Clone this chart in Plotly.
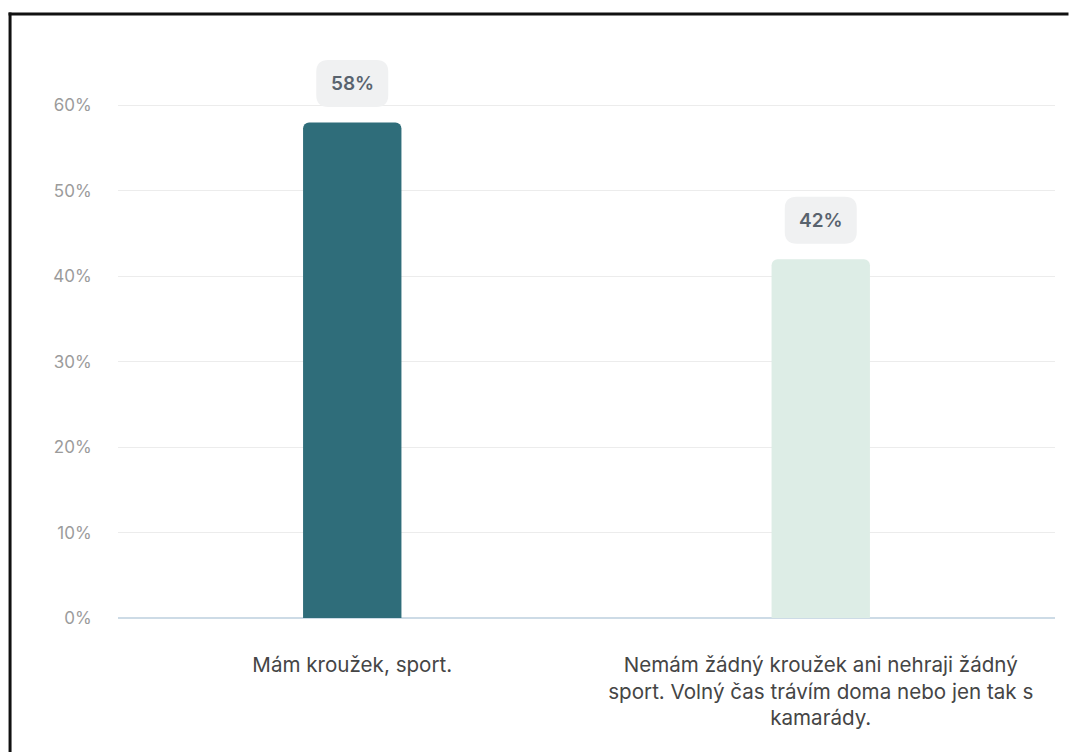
import plotly.graph_objects as go

categories = ["Mám kroužek, sport.",
              "Nemám žádný kroužek ani nehraji žádný<br>sport. Volný čas trávím doma nebo jen tak s<br>kamarády."]
values = [58, 42]
labels = ["58%", "42%"]
colors = ["#2f6d7a", "#ddede6"]
y_ticks = [0, 10, 20, 30, 40, 50, 60]

W, H = 1073, 756
ymax = 70
ml, mr, mb = 118, 17.5, 138
mt = (H - mb) - (H - mb - 105) * ymax / 60  # keep 60% gridline at same place

fig = go.Figure()
fig.add_trace(go.Bar(
    x=categories, y=values, width=0.21,
    marker=dict(color=colors, line=dict(width=0), cornerradius=6),
    hoverinfo="skip",
))

def rounded_rect(w, h, r, cy):
    x0, x1 = -w / 2, w / 2
    y0, y1 = cy - h / 2, cy + h / 2
    return (f"M{x0+r},{y0} L{x1-r},{y0} Q{x1},{y0} {x1},{y0+r} "
            f"L{x1},{y1-r} Q{x1},{y1} {x1-r},{y1} L{x0+r},{y1} "
            f"Q{x0},{y1} {x0},{y1-r} L{x0},{y0+r} Q{x0},{y0} {x0+r},{y0} Z")

shapes = []
annotations = []
for c, v, t in zip(categories, values, labels):
    shapes.append(dict(
        type="path", xref="x", yref="y", xsizemode="pixel", ysizemode="pixel",
        xanchor=c, yanchor=v, path=rounded_rect(72, 47, 12, 39),
        fillcolor="#f0f1f2", line=dict(width=0), layer="above",
    ))
    annotations.append(dict(
        x=c, y=v, xref="x", yref="y", text=t, showarrow=False, yshift=39,
        font=dict(family="Inter", size=19, color="#59636e", weight=600),
    ))

# frame lines (top and left edge of the screenshot), kept inside the page
pw, ph = W - ml - mr, H - mt - mb
def px(xp):
    return (xp - ml) / pw
def py(yp):
    return (H - mb - yp) / ph
frame = dict(color="#111111", width=3)
shapes.append(dict(type="line", xref="paper", yref="paper",
                   x0=px(10), x1=px(10), y0=py(H - 4), y1=py(12), line=frame))
shapes.append(dict(type="line", xref="paper", yref="paper",
                   x0=px(8.5), x1=px(W - 4), y0=py(13.5), y1=py(13.5), line=frame))

fig.update_layout(
    width=W, height=H,
    margin=dict(l=ml, r=mr, t=mt, b=mb),
    paper_bgcolor="white", plot_bgcolor="white",
    showlegend=False,
    shapes=shapes, annotations=annotations,
    font=dict(family="Inter"),
)
fig.update_xaxes(
    showgrid=False, showline=False, zeroline=False,
    ticks="outside", ticklen=28, tickcolor="rgba(0,0,0,0)",
    tickfont=dict(family="Inter", size=20.6, color="#454545"),
)
fig.update_yaxes(
    range=[0, ymax], tickvals=y_ticks, ticktext=[f"{v}%" for v in y_ticks],
    showgrid=True, gridcolor="#ececec", gridwidth=1,
    zeroline=True, zerolinecolor="#cddbe6", zerolinewidth=2,
    showline=False, ticks="outside", ticklen=22, tickcolor="rgba(0,0,0,0)",
    tickfont=dict(family="Inter", size=17, color="#9b9b9b"),
)

post = (
    "document.documentElement.style.overflow='hidden';"
    "document.body.style.margin='0';document.body.style.overflow='hidden';"
    "document.querySelectorAll('.plotly-graph-div, .plot-container, .svg-container')"
    ".forEach(function(e){e.style.overflow='hidden';});"
)
fig.write_html("out.html", config={"displayModeBar": False}, post_script=post)
